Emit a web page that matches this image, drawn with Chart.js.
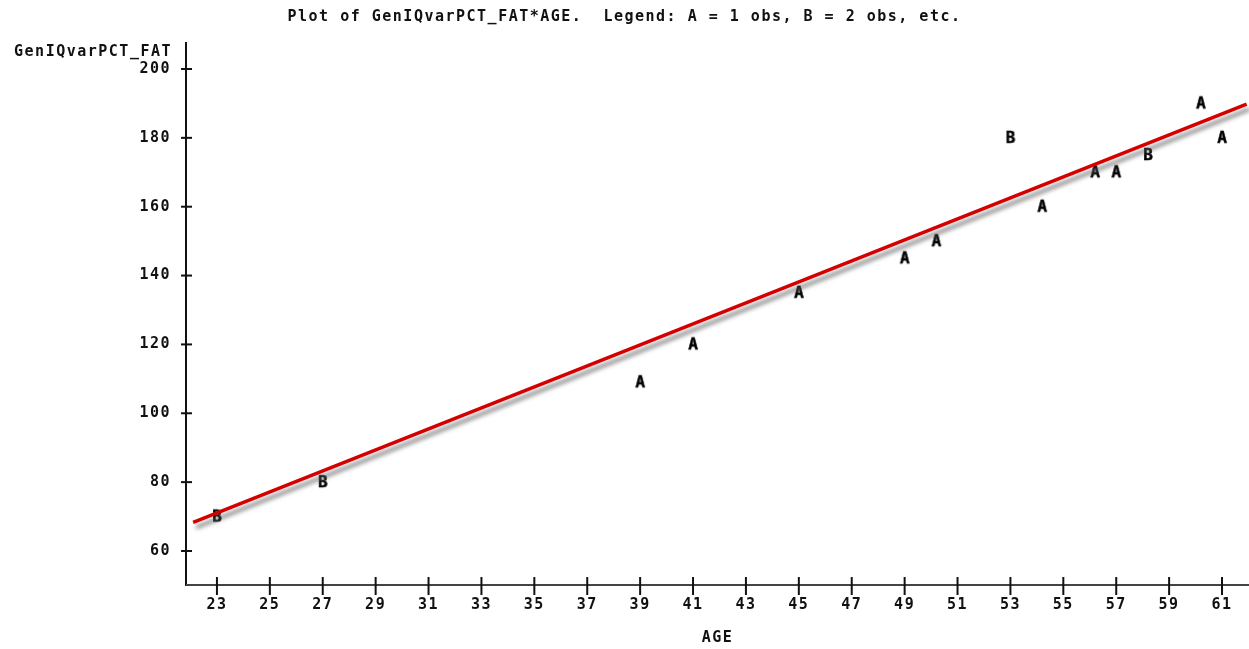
<!DOCTYPE html>
<html>
<head>
<meta charset="utf-8">
<script src="https://cdn.jsdelivr.net/npm/chart.js@4.4.1/dist/chart.umd.min.js"></script>
<style>
  html, body { margin: 0; padding: 0; background: #fff; }
  #wrap { width: 1249px; height: 649px; position: relative; }
</style>
</head>
<body>
<div id="wrap"><canvas id="c" width="1249" height="649"></canvas></div>
<script>
// ---- data ----
const titleText = 'Plot of GenIQvarPCT_FAT*AGE.  Legend: A = 1 obs, B = 2 obs, etc.';
const yAxisLabel = 'GenIQvarPCT_FAT';
const xAxisLabel = 'AGE';

// points plotted with "A" (1 obs)
const ageA = [39, 41, 45, 49, 50.2, 54.2, 56.2, 57, 60.2, 61];
const fatA = [109, 120, 135, 145, 150, 160, 170, 170, 190, 180];
// points plotted with "B" (2 obs)
const ageB = [23, 27, 53, 58.2];
const fatB = [70, 80, 180, 175];

// fitted line end points
const fitAge = [22.1, 61.93];
const fitFat = [68.34, 189.83];

const xTicks = [23,25,27,29,31,33,35,37,39,41,43,45,47,49,51,53,55,57,59,61];
const yTicks = [60,80,100,120,140,160,180,200];
const xRange = [21.83, 62.02];
const yRange = [50.12, 207.84];

const FONT_FAMILY = '"DejaVu Sans Mono", monospace';
const LS = '1.5px';

function letterCanvas(ch) {
  const c = document.createElement('canvas');
  c.width = 20; c.height = 20;
  const g = c.getContext('2d');
  g.font = 'bold 16px ' + FONT_FAMILY;
  g.fillStyle = '#000';
  g.textAlign = 'center';
  g.textBaseline = 'middle';
  g.fillText(ch, 10, 11);
  g.lineWidth = 0.5;
  g.strokeStyle = '#000';
  g.strokeText(ch, 10, 11);
  return c;
}
const markA = letterCanvas('A');
const markB = letterCanvas('B');

const toPts = (xs, ys) => xs.map((x, i) => ({x: x, y: ys[i]}));

const spacingPlugin = {
  id: 'spacing',
  beforeUpdate(chart) { chart.ctx.letterSpacing = LS; },
  beforeDraw(chart) { chart.ctx.letterSpacing = LS; }
};

const shadowPlugin = {
  id: 'lineShadow',
  beforeDatasetDraw(chart, args) {
    if (args.index === 0) {
      const ctx = chart.ctx;
      ctx.save();
      ctx.shadowColor = 'rgba(90,90,90,0.75)';
      ctx.shadowBlur = 4;
      ctx.shadowOffsetX = 3;
      ctx.shadowOffsetY = 5;
    }
  },
  afterDatasetDraw(chart, args) {
    if (args.index === 0) chart.ctx.restore();
  }
};

const axesPlugin = {
  id: 'crossAxes',
  afterDraw(chart) {
    const ctx = chart.ctx;
    const xs = chart.scales.x, ys = chart.scales.y;
    const a = chart.chartArea;
    ctx.save();
    ctx.strokeStyle = '#111';
    ctx.lineWidth = 2;
    ctx.beginPath();
    ctx.moveTo(a.left, a.top);
    ctx.lineTo(a.left, a.bottom + 1);
    ctx.stroke();
    ctx.strokeStyle = '#444';
    ctx.beginPath();
    ctx.moveTo(a.left, a.bottom);
    ctx.lineTo(a.right, a.bottom);
    ctx.stroke();
    ctx.strokeStyle = '#111';
    ys.ticks.forEach(t => {
      const p = ys.getPixelForValue(t.value);
      ctx.beginPath();
      ctx.moveTo(a.left - 5, p);
      ctx.lineTo(a.left + 6, p);
      ctx.stroke();
    });
    xs.ticks.forEach(t => {
      const p = xs.getPixelForValue(t.value);
      ctx.beginPath();
      ctx.moveTo(p, a.bottom - 8);
      ctx.lineTo(p, a.bottom + 10);
      ctx.stroke();
    });
    ctx.letterSpacing = LS;
    ctx.font = 'bold 15px ' + FONT_FAMILY;
    ctx.fillStyle = '#111';
    ctx.textAlign = 'right';
    ctx.textBaseline = 'middle';
    ctx.fillText(yAxisLabel, a.left - 14, 52);
    ctx.restore();
  }
};

new Chart(document.getElementById('c'), {
  type: 'scatter',
  data: {
    datasets: [
      {
        label: 'Fit',
        type: 'line',
        data: toPts(fitAge, fitFat),
        borderColor: '#d40000',
        borderWidth: 3.5,
        pointRadius: 0,
        fill: false,
        tension: 0
      },
      {
        label: 'A = 1 obs',
        data: toPts(ageA, fatA),
        pointStyle: markA,
        pointRadius: 8
      },
      {
        label: 'B = 2 obs',
        data: toPts(ageB, fatB),
        pointStyle: markB,
        pointRadius: 8
      }
    ]
  },
  options: {
    responsive: false,
    animation: false,
    clip: false,
    layout: { padding: 0, autoPadding: false },
    plugins: {
      legend: { display: false },
      tooltip: { enabled: false },
      title: {
        display: true,
        text: titleText,
        color: '#111',
        font: { family: FONT_FAMILY, size: 15, weight: 'bold', lineHeight: 1.2 },
        padding: { top: 8, bottom: 16 }
      }
    },
    scales: {
      x: {
        type: 'linear',
        min: xRange[0],
        max: xRange[1],
        afterBuildTicks(s) { s.ticks = xTicks.map(v => ({ value: v })); },
        afterFit(s) {
          s.height = 64;
          s.paddingLeft = 0; s.paddingRight = 0;
          if (s._margins) { s._margins.right = 0; }
        },
        grid: { display: false, drawTicks: false },
        border: { display: false },
        ticks: {
          color: '#111',
          padding: 11,
          autoSkip: false,
          maxRotation: 0,
          font: { family: FONT_FAMILY, size: 15, weight: 'bold' },
          callback: v => String(v)
        },
        title: {
          display: true,
          text: xAxisLabel,
          color: '#111',
          font: { family: FONT_FAMILY, size: 15, weight: 'bold', lineHeight: 1.2 },
          padding: { top: 0, bottom: 2 }
        }
      },
      y: {
        type: 'linear',
        min: yRange[0],
        max: yRange[1],
        afterBuildTicks(s) { s.ticks = yTicks.map(v => ({ value: v })); },
        afterFit(s) { s.width = 186; s.paddingTop = 0; s.paddingBottom = 0; },
        grid: { display: false, drawTicks: false },
        border: { display: false },
        ticks: {
          color: '#111',
          padding: 15,
          font: { family: FONT_FAMILY, size: 15, weight: 'bold' },
          callback: v => String(v)
        }
      }
    }
  },
  plugins: [spacingPlugin, shadowPlugin, axesPlugin]
});
</script>
</body>
</html>
